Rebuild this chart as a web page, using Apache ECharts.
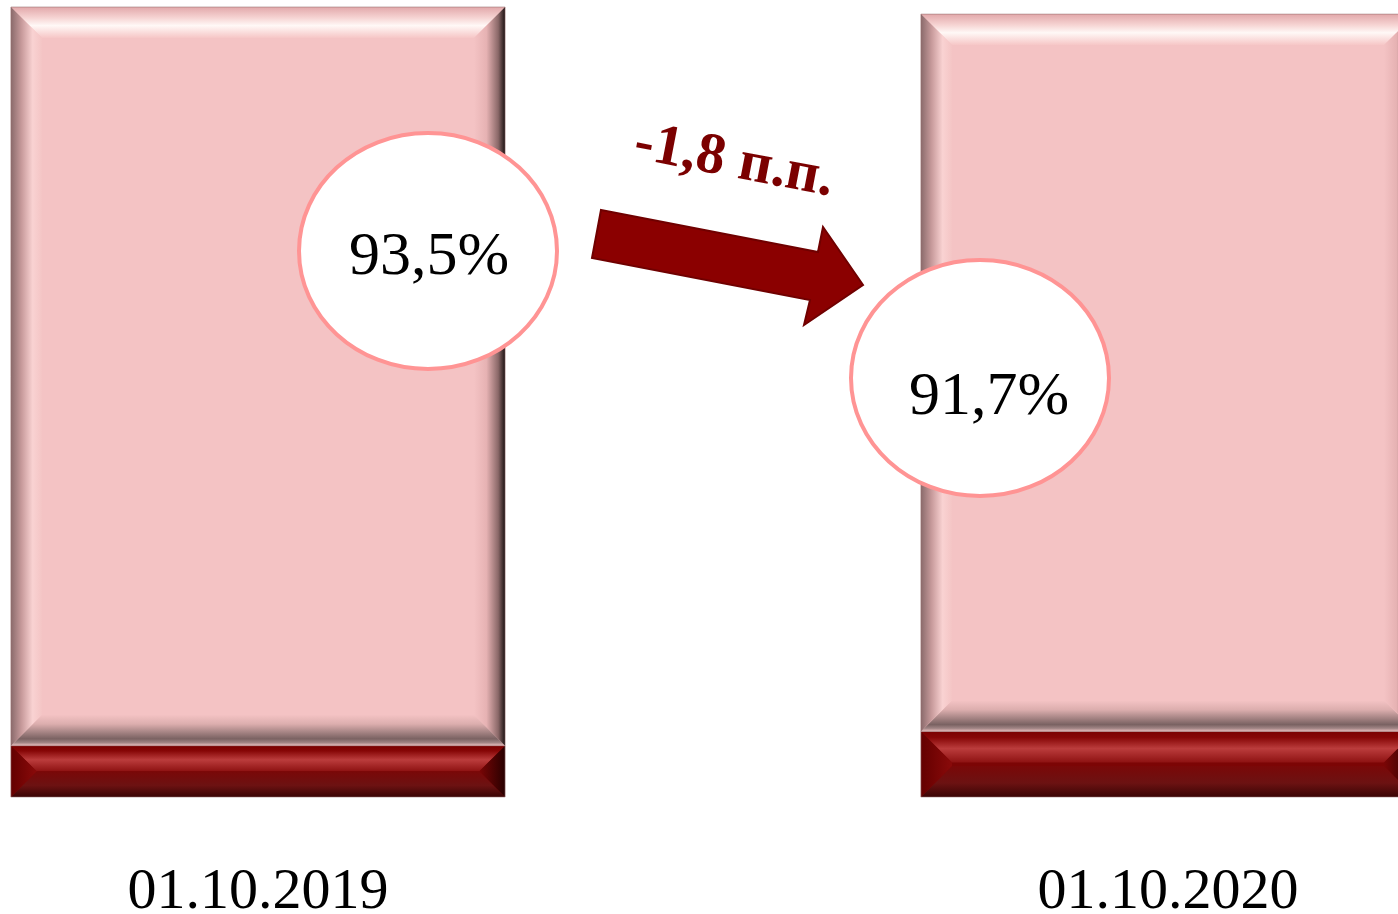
<!DOCTYPE html>
<html>
<head>
<meta charset="utf-8">
<title>Доля</title>
<script src="https://cdn.jsdelivr.net/npm/echarts@6/dist/echarts.min.js"></script>
<style>
  html, body { margin: 0; padding: 0; background: #fff; }
  #main { width: 1398px; height: 914px; }
</style>
</head>
<body>
<div id="main"></div>
<script>
// data
const categories = ['01.10.2019', '01.10.2020'];
const baseShare = [6.5, 8.3];     // dark red bottom part
const mainShare = [93.5, 90.8];   // pink upper part (bar height as drawn)
const bubbleLabels = ['93,5%', '91,7%'];
const changeLabel = '-1,8 п.п.';

const pinkPal = {
    face: '#f4c3c4',
    top: [[0, '#e2a8aa'], [0.35, '#f6d4d3'], [0.6, '#fff8f6'], [1, '#f6c6c6']],
    bottom: [[0, '#f4c3c4'], [0.3, '#dcaeae'], [0.78, '#7a6262'], [0.9, '#a08484'], [1, '#ecc0c0']],
    left: [[0, '#8a6a6b'], [0.35, '#c89b9c'], [0.7, '#f9d2d2'], [1, '#f4c5c5']],
    right: [[0, '#f4c3c4'], [0.4, '#e6b2b3'], [0.78, '#8a6868'], [1, '#1c1212']]
};
const darkPal = {
    face: '#7c0505',
    top: [[0, '#7a0000'], [0.2, '#860606'], [0.55, '#bb3c3c'], [1, '#8e1212']],
    bottom: [[0, '#7a0808'], [0.55, '#6c1212'], [1, '#3a0404']],
    left: [[0, '#640000'], [1, '#8a0a0a']],
    right: [[0, '#7a0606'], [1, '#280000']]
};

function grad(stops, vertical) {
    return {
        type: 'linear', x: 0, y: 0, x2: vertical ? 0 : 1, y2: vertical ? 1 : 0,
        colorStops: stops.map(function (s) { return {offset: s[0], color: s[1]}; })
    };
}

// bar segment drawn as a bevelled box (face + four sloped edges)
function bevelRenderer(pal) {
    return function (params, api) {
        let lo = api.coord([api.value(0), api.value(1)]);
        let hi = api.coord([api.value(0), api.value(2)]);
        let w = api.size([1, 0])[0] * 0.543;
        let x0 = lo[0] - w / 2, x1 = lo[0] + w / 2;
        let y0 = hi[1], y1 = lo[1];
        let b = Math.min(31, (y1 - y0) / 2, w / 2);
        return {
            type: 'group',
            children: [
                {type: 'rect', shape: {x: x0, y: y0, width: x1 - x0, height: y1 - y0}, style: {fill: pal.face}},
                {type: 'polygon', shape: {points: [[x0, y0], [x1, y0], [x1 - b, y0 + b], [x0 + b, y0 + b]]}, style: {fill: grad(pal.top, true)}},
                {type: 'polygon', shape: {points: [[x0 + b, y1 - b], [x1 - b, y1 - b], [x1, y1], [x0, y1]]}, style: {fill: grad(pal.bottom, true)}},
                {type: 'polygon', shape: {points: [[x0, y0], [x0 + b, y0 + b], [x0 + b, y1 - b], [x0, y1]]}, style: {fill: grad(pal.left, false)}},
                {type: 'polygon', shape: {points: [[x1 - b, y0 + b], [x1, y0], [x1, y1], [x1 - b, y1 - b]]}, style: {fill: grad(pal.right, false)}},
                {type: 'rect', shape: {x: x0, y: y0, width: x1 - x0, height: y1 - y0}, style: {fill: null, stroke: 'rgba(150,110,110,0.55)', lineWidth: 1}}
            ]
        };
    };
}

let baseData = categories.map((c, i) => [i, 0, baseShare[i]]);
let mainData = categories.map((c, i) => [i, baseShare[i], baseShare[i] + mainShare[i]]);

let serif = '"Liberation Serif", "DejaVu Serif", serif';

let option = {
    animation: false,
    grid: {left: -197, right: -225, top: 7, bottom: 117, containLabel: false, outerBoundsMode: 'none'},
    xAxis: {
        type: 'category',
        data: categories,
        axisLine: {show: false},
        axisTick: {show: false},
        axisLabel: {fontSize: 58, fontFamily: serif, color: '#000', margin: 67}
    },
    yAxis: {type: 'value', min: 0, max: 100, show: false},
    series: [
        {type: 'custom', name: 'base', renderItem: bevelRenderer(darkPal), encode: {x: 0, y: [1, 2]}, data: baseData},
        {type: 'custom', name: 'main', renderItem: bevelRenderer(pinkPal), encode: {x: 0, y: [1, 2]}, data: mainData}
    ],
    graphic: [
        {type: 'ellipse', shape: {cx: 428, cy: 251, rx: 129, ry: 118}, style: {fill: '#fff', stroke: '#ff9494', lineWidth: 4}, z: 10},
        {type: 'text', x: 429, y: 258, style: {text: bubbleLabels[0], font: '62px ' + serif, fill: '#000', align: 'center', verticalAlign: 'middle', textAlign: 'center', textVerticalAlign: 'middle'}, z: 11},
        {type: 'ellipse', shape: {cx: 980, cy: 378, rx: 129, ry: 118}, style: {fill: '#fff', stroke: '#ff9494', lineWidth: 4}, z: 10},
        {type: 'text', x: 989, y: 398, style: {text: bubbleLabels[1], font: '62px ' + serif, fill: '#000', align: 'center', verticalAlign: 'middle', textAlign: 'center', textVerticalAlign: 'middle'}, z: 11},
        {type: 'polygon', shape: {points: [[601, 210], [818, 252], [823, 227], [863, 285], [804, 325], [810, 300], [592, 258]]}, style: {fill: '#8b0000', stroke: '#700000', lineWidth: 2}, z: 10},
        {type: 'text', x: 734, y: 162, rotation: -0.19, style: {text: changeLabel, font: 'bold 58px ' + serif, fill: '#7b0000', align: 'center', verticalAlign: 'middle', textAlign: 'center', textVerticalAlign: 'middle'}, z: 11}
    ]
};

let myChart = echarts.init(document.getElementById('main'));
myChart.setOption(option);
</script>
</body>
</html>
